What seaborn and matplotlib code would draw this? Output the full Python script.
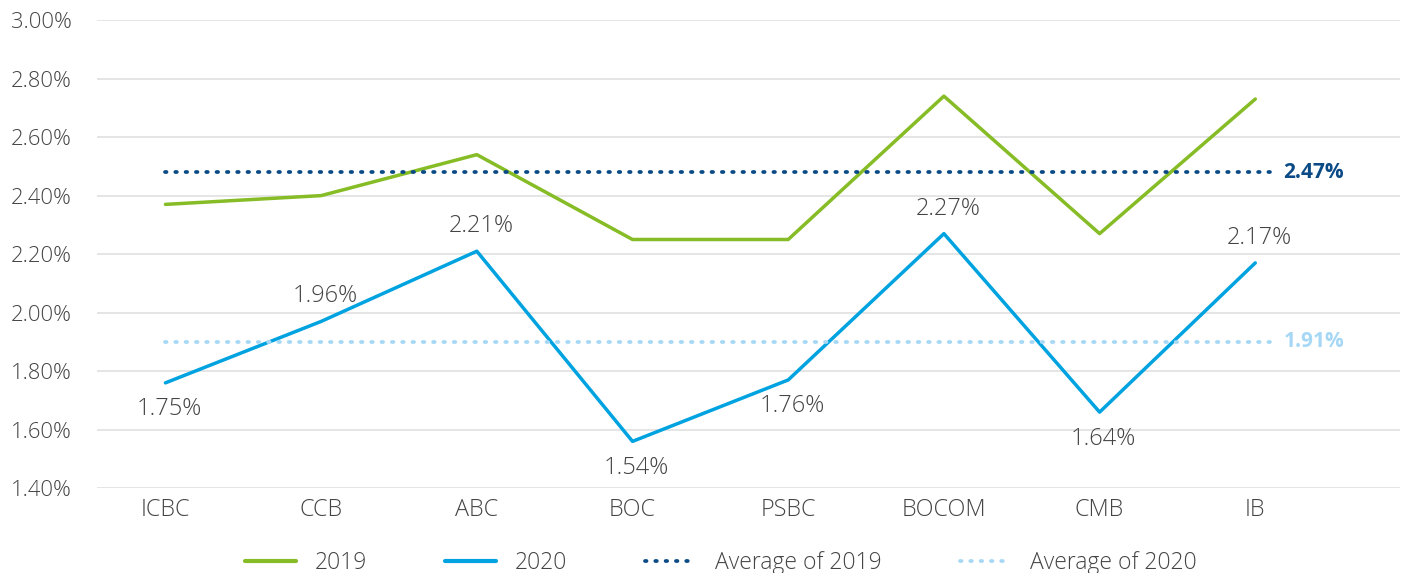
import matplotlib
matplotlib.use("Agg")
import matplotlib.pyplot as plt
import seaborn as sns
import pandas as pd
import numpy as np
from matplotlib.lines import Line2D

banks = ["ICBC", "CCB", "ABC", "BOC", "PSBC", "BOCOM", "CMB", "IB"]
vals_2019 = [2.37, 2.40, 2.54, 2.25, 2.25, 2.74, 2.27, 2.73]
vals_2020 = [1.76, 1.97, 2.21, 1.56, 1.77, 2.27, 1.66, 2.17]
labels_2020 = ["1.75%", "1.96%", "2.21%", "1.54%", "1.76%", "2.27%", "1.64%", "2.17%"]
label_above = [False, True, True, False, False, True, False, True]
avg_2019 = 2.48
avg_2020 = 1.90
avg_labels = ["2.47%", "1.91%"]
yticks = [1.40, 1.60, 1.80, 2.00, 2.20, 2.40, 2.60, 2.80, 3.00]

c2019 = "#86BC25"
c2020 = "#00A3E0"
cavg19 = "#0A4A85"
cavg20 = "#A6D8F5"
text_c = "#444444"
dots = (0, (0.4, 2.35))

sns.set_theme(style="white")
plt.rcParams["font.family"] = ["Open Sans", "DejaVu Sans"]
plt.rcParams["font.weight"] = "light"

fig = plt.figure(figsize=(14.05, 5.73), dpi=100)
ax = fig.add_axes([0.069, 0.148, 0.9275, 0.817])

x = np.arange(len(banks))
df = pd.DataFrame({
    "pos": np.concatenate([x, x]),
    "value": vals_2019 + vals_2020,
    "series": ["2019"] * len(banks) + ["2020"] * len(banks),
})
sns.lineplot(data=df, x="pos", y="value", hue="series",
             palette={"2019": c2019, "2020": c2020}, linewidth=2.5,
             ax=ax, legend=False)

avg_df = pd.DataFrame({
    "pos": [x[0], x[-1] + 0.1, x[0], x[-1] + 0.1],
    "value": [avg_2019, avg_2019, avg_2020, avg_2020],
    "series": ["a19", "a19", "a20", "a20"],
})
for s, col in [("a19", cavg19), ("a20", cavg20)]:
    sub = avg_df[avg_df.series == s]
    sns.lineplot(data=sub, x="pos", y="value", color=col, linewidth=2.7,
                 linestyle=dots, dash_capstyle="round", ax=ax)

for xi, v, lab, up in zip(x, vals_2020, labels_2020, label_above):
    off = 18 if up else -19
    ax.annotate(lab, (xi, v), xytext=(3, off),
                textcoords="offset points", ha="center",
                va="center", fontsize=17, color=text_c)

ax.annotate(avg_labels[0], (x[-1] + 0.1, avg_2019), xytext=(9, 0),
            textcoords="offset points", va="center", ha="left",
            fontsize=15, fontweight="bold", color=cavg19)
ax.annotate(avg_labels[1], (x[-1] + 0.1, avg_2020), xytext=(9, 0),
            textcoords="offset points", va="center", ha="left",
            fontsize=15, fontweight="bold", color=cavg20)

ax.set_ylim(1.40, 3.00)
ax.set_xlim(-0.44, 7.93)
ax.set_yticks(yticks)
ax.set_yticklabels([f"{t:.2f}%" for t in yticks])
ax.set_xticks(x)
ax.set_xticklabels(banks)
ax.tick_params(axis="both", colors=text_c, length=0)
ax.tick_params(axis="y", pad=18, labelsize=15.8)
ax.tick_params(axis="x", pad=7, labelsize=16.8)
ax.yaxis.grid(True, color="#e3e3e3", linewidth=1.3)
ax.set_axisbelow(True)
for sp in ax.spines.values():
    sp.set_visible(False)
ax.set_xlabel("")
ax.set_ylabel("")

handles = [
    Line2D([], [], color=c2019, linewidth=3, solid_capstyle="round"),
    Line2D([], [], color=c2020, linewidth=3, solid_capstyle="round"),
    Line2D([], [], color=cavg19, linewidth=2.7, linestyle=dots, dash_capstyle="round"),
    Line2D([], [], color=cavg20, linewidth=2.7, linestyle=dots, dash_capstyle="round"),
]
leg = fig.legend(handles, ["2019", "2020", "Average of 2019", "Average of 2020"],
                 loc="center", bbox_to_anchor=(0.513, 0.017), ncol=4,
                 frameon=False, fontsize=16.5, handlelength=2.2,
                 columnspacing=3.4, handletextpad=0.85)
for t in leg.get_texts():
    t.set_color(text_c)

fig.savefig("out.png", dpi=100)
